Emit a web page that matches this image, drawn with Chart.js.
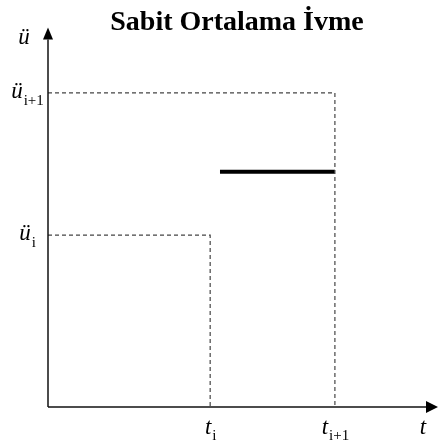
<!DOCTYPE html>
<html>
<head>
<meta charset="utf-8">
<script src="https://cdn.jsdelivr.net/npm/chart.js@4.4.1/dist/chart.umd.min.js"></script>
<style>
  html, body { margin: 0; padding: 0; background: #fff; }
  #wrap { width: 438px; height: 442px; }
</style>
</head>
<body>
<div id="wrap"><canvas id="chart"></canvas></div>
<script>
// chart values (arbitrary units, axes run 0..10)
const chartTitle = 'Sabit Ortalama İvme';
const timeTicks = [4.29, 7.59];              // t_i, t_i+1
const timeLabels = [['t', 'i'], ['t', 'i+1']];
const accelTicks = [4.68, 8.55];             // ü_i, ü_i+1
const accelLabels = [['ü', 'i'], ['ü', 'i+1']];
const avgStart = 4.55;                       // start of the thick segment
const avgAccel = 6.40;                       // constant average acceleration
const axisNames = { x: 't', y: 'ü' };

const serif = '"Liberation Serif", "Times New Roman", serif';

function drawSubLabel(ctx, main, sub, cx, baseline, drop) {
    ctx.font = 'italic 23px ' + serif;
    const wMain = ctx.measureText(main).width;
    ctx.font = '15px ' + serif;
    const wSub = ctx.measureText(sub).width;
    const start = cx - (wMain + wSub) / 2;
    ctx.textAlign = 'left';
    ctx.textBaseline = 'alphabetic';
    ctx.font = 'italic 23px ' + serif;
    ctx.fillText(main, start, baseline);
    ctx.font = '15px ' + serif;
    ctx.fillText(sub, start + wMain + 1, baseline + drop);
}

const axesPlugin = {
    id: 'axesPlugin',
    afterDraw(chart) {
        const { ctx, chartArea, scales } = chart;
        const x0 = scales.x.getPixelForValue(0);
        const y0 = scales.y.getPixelForValue(0);
        ctx.save();
        ctx.strokeStyle = '#111';
        ctx.fillStyle = '#000';
        ctx.lineWidth = 1.5;

        // y axis with arrow
        ctx.beginPath();
        ctx.moveTo(x0, y0);
        ctx.lineTo(x0, chartArea.top);
        ctx.stroke();
        ctx.beginPath();
        ctx.moveTo(x0, chartArea.top - 12);
        ctx.lineTo(x0 - 5, chartArea.top);
        ctx.lineTo(x0 + 5, chartArea.top);
        ctx.closePath();
        ctx.fill();

        // x axis with arrow
        ctx.beginPath();
        ctx.moveTo(x0, y0);
        ctx.lineTo(chartArea.right, y0);
        ctx.stroke();
        ctx.beginPath();
        ctx.moveTo(chartArea.right + 12, y0);
        ctx.lineTo(chartArea.right, y0 - 6);
        ctx.lineTo(chartArea.right, y0 + 6);
        ctx.closePath();
        ctx.fill();

        // axis names
        ctx.font = 'italic 23px ' + serif;
        ctx.textAlign = 'center';
        ctx.textBaseline = 'alphabetic';
        ctx.fillText(axisNames.y, x0 - 24, chartArea.top + 4);
        ctx.fillText(axisNames.x, chartArea.right - 3, y0 + 27);

        // tick labels with subscripts
        accelTicks.forEach((v, i) => {
            const py = scales.y.getPixelForValue(v);
            drawSubLabel(ctx, accelLabels[i][0], accelLabels[i][1], x0 - 21, py + 5, 7);
        });
        timeTicks.forEach((v, i) => {
            const px = scales.x.getPixelForValue(v);
            drawSubLabel(ctx, timeLabels[i][0], timeLabels[i][1], px, y0 + 27, 6);
        });
        ctx.restore();
    }
};

const dashStyle = {
    borderColor: '#444',
    borderWidth: 1.2,
    borderDash: [4, 3],
    pointRadius: 0,
    showLine: true,
    fill: false
};

new Chart(document.getElementById('chart').getContext('2d'), {
    type: 'scatter',
    data: {
        datasets: [
            Object.assign({
                label: 'ü i+1',
                data: [
                    { x: 0, y: accelTicks[1] },
                    { x: timeTicks[1], y: accelTicks[1] },
                    { x: timeTicks[1], y: 0 }
                ]
            }, dashStyle),
            Object.assign({
                label: 'ü i',
                data: [
                    { x: 0, y: accelTicks[0] },
                    { x: timeTicks[0], y: accelTicks[0] },
                    { x: timeTicks[0], y: 0 }
                ]
            }, dashStyle),
            {
                label: 'ortalama ivme',
                data: [
                    { x: avgStart, y: avgAccel },
                    { x: timeTicks[1], y: avgAccel }
                ],
                borderColor: '#000',
                borderWidth: 4,
                borderCapStyle: 'butt',
                pointRadius: 0,
                showLine: true,
                fill: false
            }
        ]
    },
    options: {
        responsive: true,
        maintainAspectRatio: false,
        animation: false,
        layout: { padding: { left: 48, right: 12, top: 2, bottom: 35 } },
        plugins: {
            legend: { display: false },
            tooltip: { enabled: false },
            title: {
                display: true,
                text: chartTitle,
                color: '#000',
                font: { family: serif, size: 28, weight: 'bold', lineHeight: 1.2 },
                padding: { top: 4, bottom: 0 }
            }
        },
        scales: {
            x: { type: 'linear', min: 0, max: 10, display: false },
            y: { type: 'linear', min: 0, max: 10, display: false }
        }
    },
    plugins: [axesPlugin]
});
</script>
</body>
</html>
